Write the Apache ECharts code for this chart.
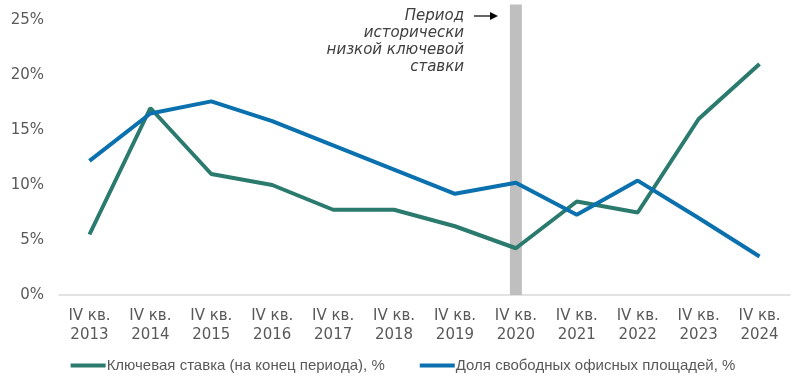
<!DOCTYPE html>
<html><head><meta charset="utf-8">
<script src="https://cdn.jsdelivr.net/npm/echarts@6/dist/echarts.min.js"></script>
<style>html,body{margin:0;padding:0;background:#fff}#c{width:806px;height:389px}</style>
</head><body><div id="c"></div>
<script>
const categories = ['IV кв.\n2013','IV кв.\n2014','IV кв.\n2015','IV кв.\n2016','IV кв.\n2017','IV кв.\n2018','IV кв.\n2019','IV кв.\n2020','IV кв.\n2021','IV кв.\n2022','IV кв.\n2023','IV кв.\n2024'];
const keyRate = [5.5, 17, 11, 10, 7.75, 7.75, 6.25, 4.25, 8.5, 7.5, 16, 21];
const vacancy = [12.2, 16.5, 17.6, 15.8, 13.6, 11.4, 9.2, 10.2, 7.3, 10.4, 7.0, 3.5];
const highlight = [null, null, null, null, null, null, null, 26.4, null, null, null, null];
const yTicks = [0, 5, 10, 15, 20, 25];
const seriesNames = ['Ключевая ставка (на конец периода), %', 'Доля свободных офисных площадей, %'];
const noteText = 'Период\nисторически\nнизкой ключевой\nставки';

const chart = echarts.init(document.getElementById('c'));
const axisFont = 'DejaVu Sans';
chart.setOption({
  animation: false,
  grid: {left: 59, right: 16, top: 20, bottom: 94},
  legend: {
    top: 353, left: 'center',
    itemWidth: 35, itemHeight: 4, itemGap: 35, icon: 'rect',
    textStyle: {fontFamily: 'Liberation Sans, Arial, sans-serif', fontSize: 15, color: '#595959', padding: [0,0,0,-4]},
    data: seriesNames
  },
  xAxis: {
    type: 'category', data: categories, boundaryGap: true,
    axisLine: {lineStyle: {color: '#D9D9D9', width: 1.5}},
    axisTick: {show: false},
    axisLabel: {color: '#595959', fontFamily: axisFont, fontSize: 15, lineHeight: 19, margin: 12, interval: 0}
  },
  yAxis: {
    type: 'value', min: yTicks[0], max: yTicks[yTicks.length-1], interval: 5,
    axisLine: {show: false}, axisTick: {show: false}, splitLine: {show: false},
    axisLabel: {color: '#595959', fontFamily: axisFont, fontSize: 15, margin: 15, formatter: v => v + '%'}
  },
  series: [
    {type: 'bar', data: highlight, barWidth: 12, clip: false, itemStyle: {color: '#BFBFBF'}, silent: true, z: 1},
    {name: seriesNames[0], type: 'line', data: keyRate, symbol: 'none', lineStyle: {color: '#2B7A6E', width: 4}, itemStyle: {color: '#2B7A6E'}, z: 3},
    {name: seriesNames[1], type: 'line', data: vacancy, symbol: 'none', lineStyle: {color: '#0A71AE', width: 4}, itemStyle: {color: '#0A71AE'}, z: 3}
  ],
  graphic: [
    {type: 'text', x: 464, y: 8, style: {text: noteText, align: 'right', verticalAlign: 'top', font: 'italic 15px DejaVu Sans', lineHeight: 17, fill: '#404040'}},
    {type: 'line', shape: {x1: 474, y1: 16, x2: 493, y2: 16}, style: {stroke: '#000', lineWidth: 1.2}},
    {type: 'polygon', shape: {points: [[498,16],[490,12],[490,20]]}, style: {fill: '#000'}}
  ]
});
</script></body></html>
